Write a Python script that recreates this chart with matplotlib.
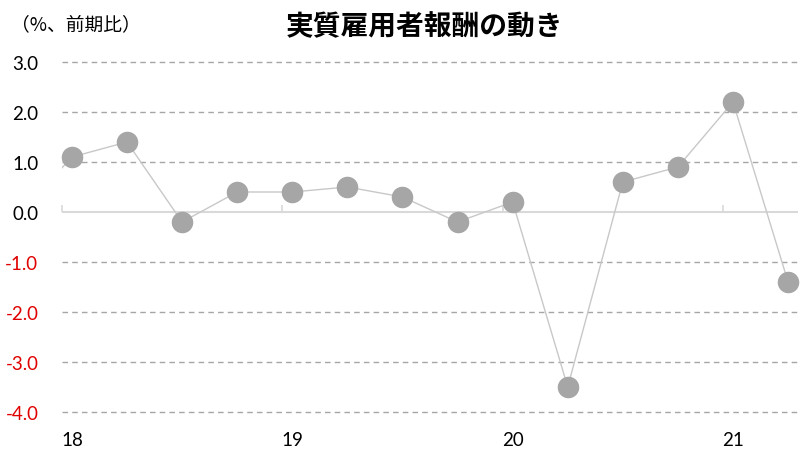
import matplotlib
matplotlib.use("Agg")
import matplotlib.pyplot as plt

plt.rcParams['font.family'] = ['Lato', 'Noto Sans CJK JP', 'DejaVu Sans']

# Data (quarterly, q/q % change). First value is the prior quarter (17Q4), drawn off the left edge.
quarters = ["17Q4", "18Q1", "18Q2", "18Q3", "18Q4", "19Q1", "19Q2", "19Q3", "19Q4",
            "20Q1", "20Q2", "20Q3", "20Q4", "21Q1", "21Q2"]
values = [-0.1, 1.1, 1.4, -0.2, 0.4, 0.4, 0.5, 0.3, -0.2, 0.2, -3.5, 0.6, 0.9, 2.2, -1.4]
year_labels = ["18", "19", "20", "21"]
year_q1_index = [0, 4, 8, 12]
y_ticks = [3.0, 2.0, 1.0, 0.0, -1.0, -2.0, -3.0, -4.0]
title = "実質雇用者報酬の動き"
unit_label = "（%、前期比）"

x = list(range(-1, len(values) - 1))

fig = plt.figure(figsize=(8, 4.64), dpi=100)
ax = fig.add_axes([62/800, 1 - 413/464, (798-62)/800, (413-63)/464])

ax.plot(x, values, color='#C8C8C8', lw=1.0, zorder=2)
ax.plot(x[1:], values[1:], ls='none', marker='o', ms=14.5, mfc='#A6A6A6', mec='#A6A6A6', zorder=3, clip_on=False)

ax.set_xlim(-0.18, 13.18)
ax.set_ylim(-4, 3)

for yv in y_ticks:
    if yv != 0:
        ax.axhline(yv, color='#A6A6A6', lw=1.0, ls=(0, (4, 3)), zorder=1, clip_on=False)
ax.axhline(0, color='#D9D9D9', lw=1.5, zorder=1)

for s in ax.spines.values():
    s.set_visible(False)

ax.set_yticks(y_ticks)
ax.set_yticklabels([f"{v:.1f}" for v in y_ticks])
ax.tick_params(axis='y', length=0, pad=17, labelsize=13.5)
for lbl, v in zip(ax.get_yticklabels(), y_ticks):
    lbl.set_color('#E00000' if v < 0 else 'black')

ax.set_xticks(year_q1_index)
ax.set_xticklabels(year_labels)
ax.tick_params(axis='x', length=0, pad=14, labelsize=13.5)

sec = ax.secondary_xaxis(4/7)
sec.set_xticks([q - 0.18 for q in year_q1_index])
sec.set_xticklabels([])
sec.tick_params(axis='x', length=5, color='#D9D9D9', width=1.2, direction='out')
for s in sec.spines.values():
    s.set_visible(False)

fig.text(425/800, 1 - 27/464, title, ha='center', va='center', fontsize=20,
         fontweight='bold', family=['Noto Sans CJK JP', 'DejaVu Sans'])
fig.text(11/800, 1 - 25/464, unit_label, ha='left', va='center', fontsize=13.5,
         family=['Noto Sans CJK JP', 'DejaVu Sans'])

fig.savefig("out.png", dpi=100, facecolor='white')
